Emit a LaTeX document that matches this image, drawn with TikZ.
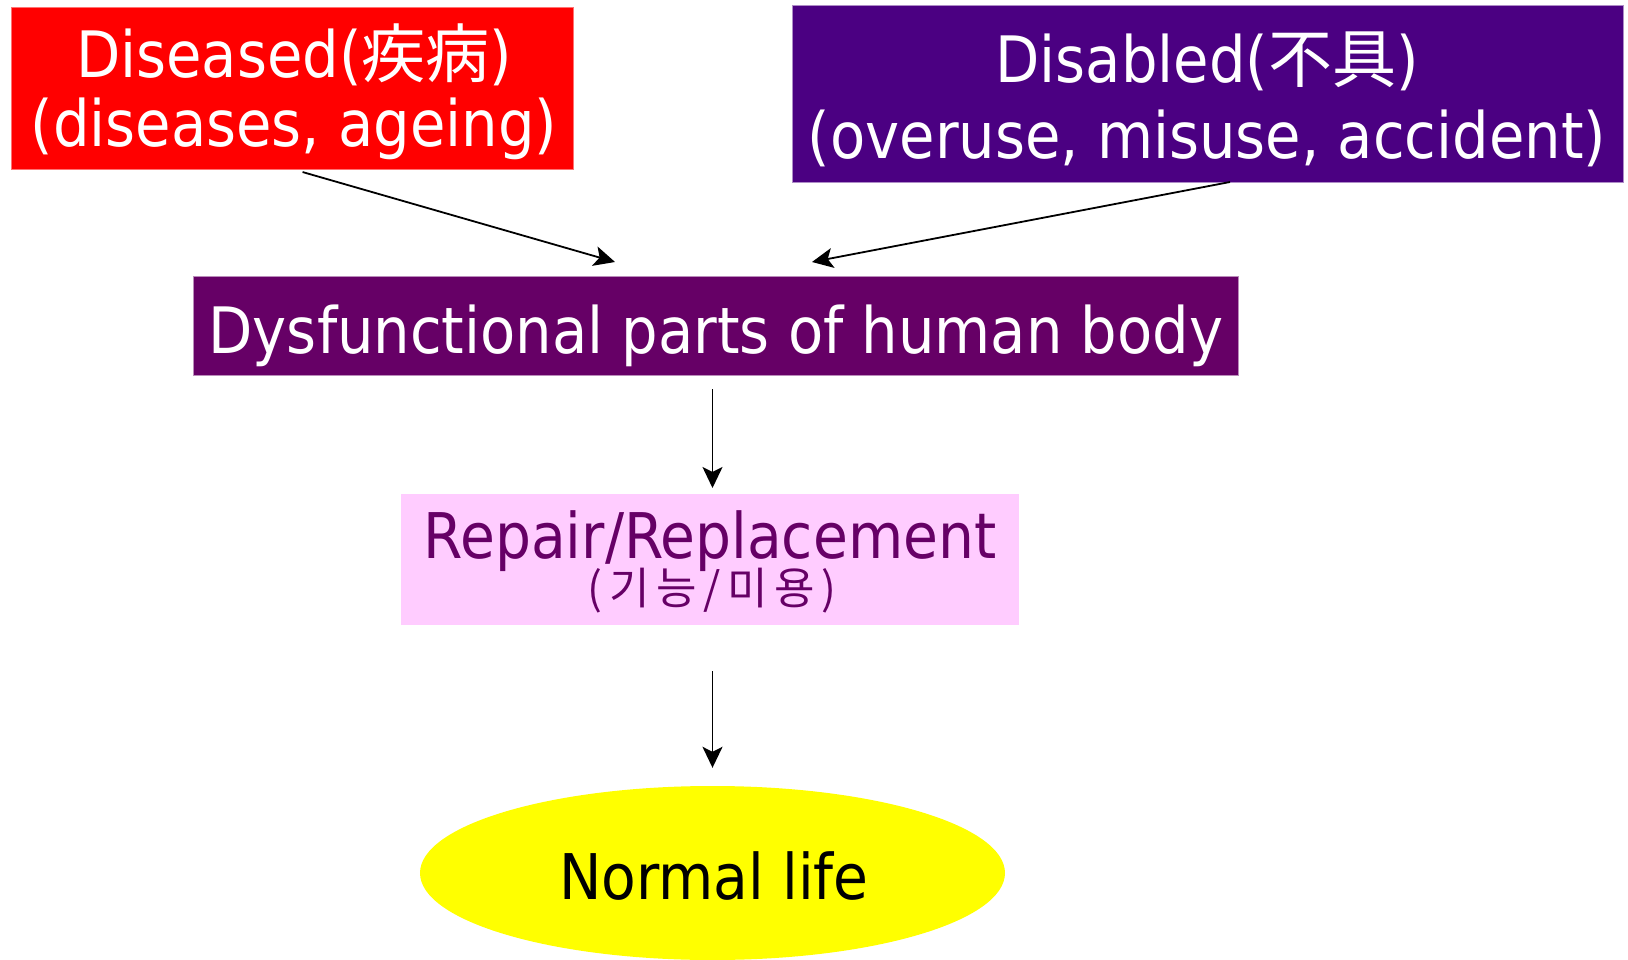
\documentclass[tikz,border=0pt]{standalone}
\usepackage{fontspec}
\setmainfont{DejaVu Sans Condensed}
\newfontfamily\cjk{Noto Sans CJK KR}
\newfontfamily\cjkwide[LetterSpace=15]{Noto Sans CJK KR}
\usetikzlibrary{shapes.geometric,arrows.meta}
\definecolor{cred}{HTML}{FF0000}
\definecolor{cindigo}{HTML}{4B0082}
\definecolor{cplum}{HTML}{660066}
\definecolor{cpink}{HTML}{FFCCFF}
\definecolor{cyellow}{HTML}{FFFF00}
\tikzset{
  box/.style={rectangle, inner sep=0pt, outer sep=0pt},
  txt/.style={inner sep=0pt, outer sep=0pt, anchor=base},
  arr/.style={-{Stealth[length=21pt,width=20pt,inset=5pt]}, line width=1.8pt, black},
}
\begin{document}
\begin{tikzpicture}[x=1pt,y=-1pt]
\useasboundingbox (0,0) rectangle (1628,960);
% boxes
\node[box, fill=cred, draw=cred!55!white, line width=0.8pt, minimum width=562pt, minimum height=162pt] (red) at (292,88) {};
\node[box, fill=cindigo, draw=cindigo!45!white, line width=0.8pt, minimum width=831pt, minimum height=177pt] (ind) at (1207.5,93.5) {};
\node[box, fill=cplum, draw=cplum!45!white, line width=0.8pt, minimum width=1045pt, minimum height=99pt] (dys) at (715.5,325.5) {};
\node[box, fill=cpink, minimum width=618pt, minimum height=131pt] (rep) at (710,559.5) {};
\node[ellipse, fill=cyellow, inner sep=0pt, minimum width=585pt, minimum height=174pt] (life) at (712.5,873) {};
% texts
\node[txt, text=white, font=\fontsize{64}{64}\selectfont] (t1) at (294,78) {Diseased({\cjk 疾病})};
\node[txt, text=white, font=\fontsize{64}{64}\selectfont] (t2) at (294,147) {(diseases, ageing)};
\node[txt, text=white, font=\fontsize{64}{64}\selectfont] (t3) at (1207,83) {Disabled({\cjk 不具})};
\node[txt, text=white, font=\fontsize{64}{64}\selectfont] (t4) at (1207,159) {(overuse, misuse, accident)};
\node[txt, text=white, font=\fontsize{64}{64}\selectfont] (t5) at (716,353) {Dysfunctional parts of human body};
\node[txt, text=cplum, font=\fontsize{63}{63}\selectfont] (t6) at (710,558) {Repair/Replacement};
\node[txt, text=cplum, font=\fontsize{44}{44}\cjkwide] (t7) at (712,604) {(기능/미용)};
\node[txt, text=black, font=\fontsize{63}{63}\selectfont] (t8) at (714,899) {Normal life};
% connector ends
\coordinate (e1) at (615,262);
\coordinate (s2) at (1230,182);
\coordinate (e2) at (812,262);
% connectors
\draw[arr, shorten <=11pt] (red.south) -- (e1);
\draw[arr] (s2) -- (e2);
\draw[arr, shorten <=14pt, shorten >=6pt] (dys.south -| life.north) -- (rep.north -| life.north);
\draw[arr, shorten <=46pt, shorten >=18pt] (rep.south -| life.north) -- (life.north);
\end{tikzpicture}
\end{document}
